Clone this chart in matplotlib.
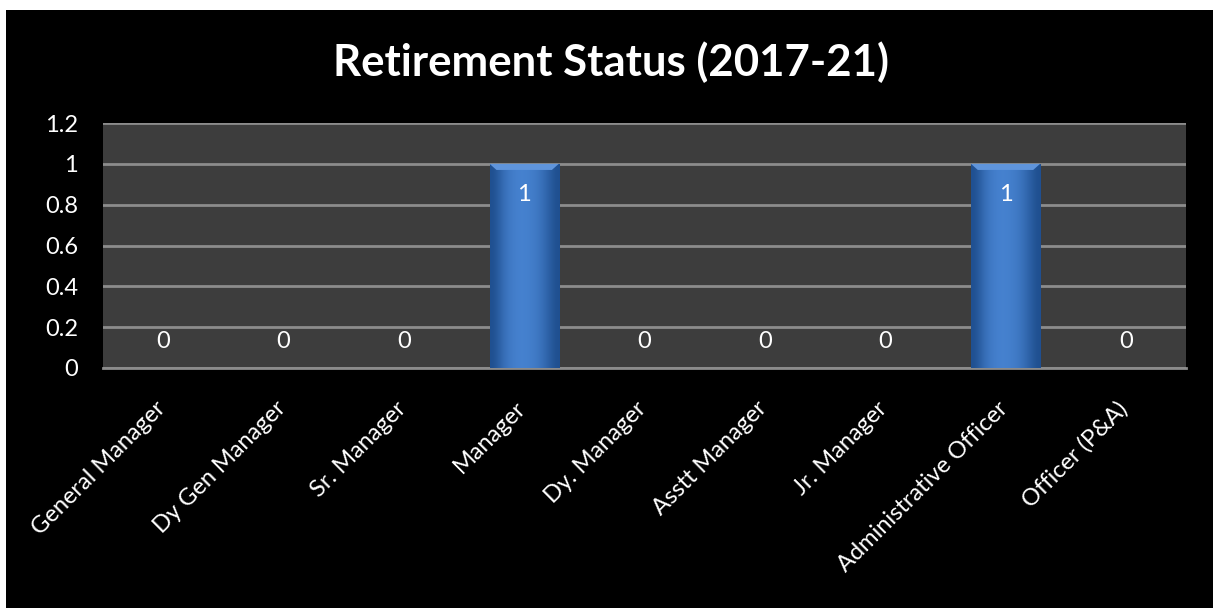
# retirement_status.py
# bar chart of retirements per grade, 2017-21
import numpy as np
import matplotlib
matplotlib.use('Agg')
import matplotlib.pyplot as plt
import matplotlib.transforms as mtrans
from matplotlib.patches import Rectangle

# data
grades = ['General Manager', 'Dy Gen Manager', 'Sr. Manager', 'Manager',
          'Dy. Manager', 'Asstt Manager', 'Jr. Manager',
          'Administrative Officer', 'Officer (P&A)']
retired = [0, 0, 0, 1, 0, 0, 0, 1, 0]
yticks = [0, 0.2, 0.4, 0.6, 0.8, 1, 1.2]
yticklabels = ['0', '0.2', '0.4', '0.6', '0.8', '1', '1.2']
title = 'Retirement Status (2017-21)'

plt.rcParams['font.family'] = ['Lato', 'DejaVu Sans']
fs = 17

W, H = 1213, 608
fig = plt.figure(figsize=(W/100., H/100.), dpi=100)
fig.patch.set_facecolor('black')
# white margin on top and left
fig.patches.append(Rectangle((0, 1 - 10./H), 1, 10./H, transform=fig.transFigure,
                             facecolor='white', edgecolor='none', zorder=-10))
fig.patches.append(Rectangle((0, 0), 6./W, 1, transform=fig.transFigure,
                             facecolor='white', edgecolor='none', zorder=-10))

ax = fig.add_axes([103./W, 1 - 368./H, (1186. - 103.)/W, (368. - 123.)/H])
ax.set_facecolor('#3d3d3d')
for s in ['top', 'right', 'left']:
    ax.spines[s].set_visible(False)
ax.spines['bottom'].set_color('#8c8c8c')
ax.spines['bottom'].set_linewidth(2)

x = np.arange(len(grades))
barw = 0.575
bars = ax.bar(x, retired, width=barw, color='#3f78c4', edgecolor='none', zorder=3)

# gradient / bevel look for the bars
grad = np.array([[0.0, 0.6, 0.9, 1.0, 0.95, 0.8, 0.45, 0.0]])
cmap = matplotlib.colors.LinearSegmentedColormap.from_list('b', ['#1f4f8f', '#4682d0'])
for b in bars:
    h = b.get_height()
    if h <= 0:
        continue
    x0 = b.get_x()
    im = ax.imshow(grad, cmap=cmap, extent=[x0, x0 + barw, 0, h], aspect='auto',
                   zorder=4, interpolation='bicubic')
    im.set_clip_path(b)
    # lighter top bevel
    ax.fill([x0, x0 + barw, x0 + barw*0.9, x0 + barw*0.1],
            [h, h, h - 0.03, h - 0.03], color='#5f95dc', zorder=5, lw=0)

ax.set_xlim(-0.5, len(grades) - 0.5)
ax.set_ylim(0, 1.2)
ax.set_yticks(yticks)
ax.set_yticklabels(yticklabels)
ax.yaxis.grid(True, color='#8c8c8c', linewidth=2)
ax.set_axisbelow(True)
ax.tick_params(axis='y', length=0, pad=18, labelsize=fs, colors='white')
ax.tick_params(axis='x', length=0, pad=0)
ax.set_xticks(x)
ax.set_xticklabels(grades, rotation=45, ha='right', va='top', fontsize=fs, color='white')
shift = mtrans.ScaledTranslation(6./100, 0, fig.dpi_scale_trans)
for lab in ax.get_xticklabels():
    lab.set_y(-0.12)
    lab.set_transform(lab.get_transform() + shift)

# value labels
for xi, v in zip(x, retired):
    if v > 0:
        ax.text(xi, v - 0.15, '%d' % v, ha='center', va='center', color='white', fontsize=fs, zorder=6)
    else:
        ax.text(xi, 0.13, '%d' % v, ha='center', va='center', color='white', fontsize=fs, zorder=6)

fig.text(611./W, 1 - 62./H, title, ha='center', va='center', color='white',
         fontsize=31.5, fontweight='bold')

fig.savefig('out.png', dpi=100, facecolor=fig.get_facecolor())
